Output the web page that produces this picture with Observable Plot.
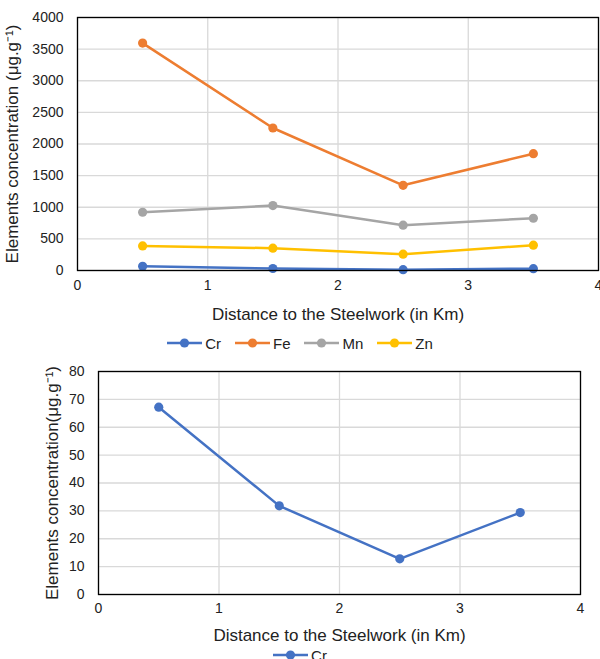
<!DOCTYPE html>
<html><head><meta charset="utf-8">
<script src="https://cdn.jsdelivr.net/npm/d3@7"></script>
<script src="https://cdn.jsdelivr.net/npm/@observablehq/plot@0.6"></script>
<style>
html,body{margin:0;padding:0;background:#fff;}
body{width:600px;height:659px;overflow:hidden;font-family:"Liberation Sans",Arial,sans-serif;color:#222;}
.legend{display:flex;justify-content:center;align-items:center;gap:14px;font-size:15px;}
.item{display:flex;align-items:center;gap:3px;}
svg{display:block;}
</style></head><body><div id="c"></div>
<script>
const distances = [0.5, 1.5, 2.5, 3.5];
const elements = ["Cr", "Fe", "Mn", "Zn"];
const crValues = [67.2, 31.8, 12.8, 29.4];
const feValues = [3595, 2253, 1347, 1847];
const mnValues = [921, 1026, 716, 826];
const znValues = [389, 353, 258, 400];
const colors = ["#4472C4", "#ED7D31", "#A5A5A5", "#FFC000"];
const xTicks = [0, 1, 2, 3, 4];
const yTicksTop = [0, 500, 1000, 1500, 2000, 2500, 3000, 3500, 4000];
const yTicksBottom = [0, 10, 20, 30, 40, 50, 60, 70, 80];
const xTitle = "Distance to the Steelwork (in Km)";
const yTitleTop = "Elements concentration (μg.g⁻¹)";
const yTitleBottom = "Elements concentration(μg.g⁻¹)";

const seriesValues = [crValues, feValues, mnValues, znValues];
const rows = elements.flatMap((el, i) => distances.map((d, j) => ({element: el, distance: d, value: seriesValues[i][j]})));
const crRows = rows.filter(r => r.element === "Cr");

const font = '"Liberation Sans", Arial, sans-serif';
const plain = d => String(d);

function makeChart({data, yDomain, yTicks, yTitle, height, marginLeft, marginRight, marginTop, marginBottom, xPad, xLabelOffset, yLabelOffset}) {
  return Plot.plot({
    width: 600, height, marginLeft, marginRight, marginTop, marginBottom,
    style: {fontFamily: font, fontSize: "14px", color: "#222", background: "#fff", overflow: "visible"},
    x: {domain: [0, 4]},
    y: {domain: yDomain},
    color: {domain: elements, range: colors},
    marks: [
      Plot.gridX({ticks: xTicks, stroke: "#D9D9D9", strokeOpacity: 1, strokeWidth: 1.3}),
      Plot.gridY({ticks: yTicks, stroke: "#D9D9D9", strokeOpacity: 1, strokeWidth: 1.3}),
      Plot.axisX({ticks: xTicks, tickFormat: plain, tickSize: 0, tickPadding: xPad, label: null, fontSize: 14}),
      Plot.axisX({ticks: [], label: xTitle, labelAnchor: "center", labelOffset: xLabelOffset, labelArrow: false, fontSize: 17}),
      Plot.axisY({ticks: yTicks, tickFormat: plain, tickSize: 0, tickPadding: 14, label: null, fontSize: 14}),
      Plot.axisY({ticks: [], label: yTitle, labelAnchor: "center", labelOffset: yLabelOffset, labelArrow: false, fontSize: 17}),
      Plot.line(data, {x: "distance", y: "value", z: "element", stroke: "element", strokeWidth: 2.5}),
      Plot.dot(data, {x: "distance", y: "value", fill: "element", r: 4.6}),
      Plot.frame({stroke: "#000", strokeWidth: 1.3})
    ]
  });
}

function makeLegend(names, height) {
  const div = document.createElement("div");
  div.className = "legend";
  div.style.height = height + "px";
  names.forEach(n => {
    const c = colors[elements.indexOf(n)];
    const item = document.createElement("div");
    item.className = "item";
    item.innerHTML = `<svg width="35" height="12"><line x1="0" x2="35" y1="6" y2="6" stroke="${c}" stroke-width="2.5"/><circle cx="17.5" cy="6" r="4.6" fill="${c}"/></svg><span>${n}</span>`;
    div.appendChild(item);
  });
  return div;
}

const root = document.getElementById("c");
root.appendChild(makeChart({data: rows, yDomain: [0, 4000], yTicks: yTicksTop, yTitle: yTitleTop,
  height: 330, marginLeft: 77, marginRight: 2, marginTop: 17, marginBottom: 60, xPad: 10, xLabelOffset: 49, yLabelOffset: 72}));
root.appendChild(makeLegend(elements, 26));
root.appendChild(makeChart({data: crRows, yDomain: [0, 80], yTicks: yTicksBottom, yTitle: yTitleBottom,
  height: 290, marginLeft: 98, marginRight: 20, marginTop: 15, marginBottom: 52, xPad: 9, xLabelOffset: 46.5, yLabelOffset: 53}));
root.appendChild(makeLegend(["Cr"], 18));
</script></body></html>
